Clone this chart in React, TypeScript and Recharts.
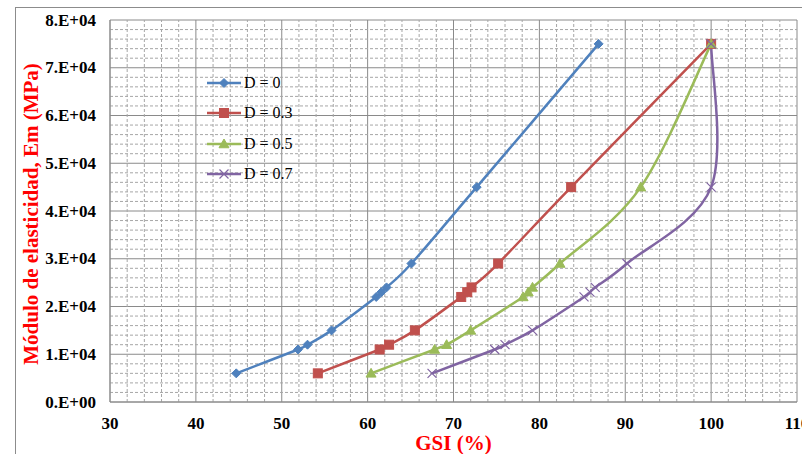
import React from 'react';
import { LineChart, Line, XAxis, YAxis, CartesianGrid, ReferenceLine, Legend } from 'recharts';

// Módulo de elasticidad (MPa) – shared y values for every curve
const emValues = [6000, 11000, 12000, 15000, 22000, 23000, 24000, 29000, 45000, 75000];
// GSI (%) for each disturbance factor D
const gsiD0 = [44.7, 51.9, 53.0, 55.8, 61.0, 61.6, 62.2, 65.1, 72.7, 86.9];
const gsiD03 = [54.2, 61.4, 62.5, 65.5, 70.9, 71.6, 72.1, 75.2, 83.7, 100];
const gsiD05 = [60.4, 67.8, 69.2, 72.0, 78.1, 78.7, 79.2, 82.4, 91.8, 100];
const gsiD07 = [67.5, 74.8, 76.0, 79.2, 85.2, 85.9, 86.5, 90.2, 100, 100];

const seriesNames = ['D = 0', 'D = 0.3', 'D = 0.5', 'D = 0.7'];
const seriesColors = ['#4F81BD', '#C0504D', '#9BBB59', '#8064A2'];
const seriesMarkers = ['diamond', 'square', 'triangle', 'x'];

const xTicks = [30, 40, 50, 60, 70, 80, 90, 100, 110];
const yTicks = [0, 10000, 20000, 30000, 40000, 50000, 60000, 70000, 80000];
const yTickLabels = ['0.E+00', '1.E+04', '2.E+04', '3.E+04', '4.E+04', '5.E+04', '6.E+04', '7.E+04', '8.E+04'];
const xMinor = [32, 34, 36, 38, 42, 44, 46, 48, 52, 54, 56, 58, 62, 64, 66, 68, 72, 74, 76, 78, 82, 84, 86, 88, 92, 94, 96, 98, 102, 104, 106, 108];
const yMinor = [2000, 4000, 6000, 8000, 12000, 14000, 16000, 18000, 22000, 24000, 26000, 28000, 32000, 34000, 36000, 38000, 42000, 44000, 46000, 48000, 52000, 54000, 56000, 58000, 62000, 64000, 66000, 68000, 72000, 74000, 76000, 78000];

const xTitle = 'GSI (%)';
const yTitle = 'Módulo de elasticidad, Em (MPa)';

const toPoints = (xs: number[]) => xs.map((x, i) => ({ x, y: emValues[i] }));
const seriesData = [toPoints(gsiD0), toPoints(gsiD03), toPoints(gsiD05), toPoints(gsiD07)];

const FONT = '"Liberation Serif", "Times New Roman", serif';
const MAJOR = '#8a8a8a';
const MINOR = '#a6a6a6';

// Excel-like smoothed line (Catmull-Rom through the points)
const excelSmooth = (context: any) => {
  let pts: number[][] = [];
  return {
    areaStart() {},
    areaEnd() {},
    lineStart() {
      pts = [];
    },
    lineEnd() {
      const n = pts.length;
      if (!n) return;
      context.moveTo(pts[0][0], pts[0][1]);
      for (let i = 0; i < n - 1; i++) {
        const p0 = pts[Math.max(i - 1, 0)];
        const p1 = pts[i];
        const p2 = pts[i + 1];
        const p3 = pts[Math.min(i + 2, n - 1)];
        context.bezierCurveTo(
          p1[0] + (p2[0] - p0[0]) / 6,
          p1[1] + (p2[1] - p0[1]) / 6,
          p2[0] - (p3[0] - p1[0]) / 6,
          p2[1] - (p3[1] - p1[1]) / 6,
          p2[0],
          p2[1]
        );
      }
    },
    point(x: number, y: number) {
      pts.push([+x, +y]);
    },
  };
};

const Marker = ({ kind, cx, cy, color }: { kind: string; cx: number; cy: number; color: string }) => {
  if (cx == null || cy == null) return null;
  if (kind === 'diamond') {
    const r = 4.5;
    return <path d={`M${cx},${cy - r}L${cx + r},${cy}L${cx},${cy + r}L${cx - r},${cy}Z`} fill={color} stroke={color} strokeWidth={1} />;
  }
  if (kind === 'square') {
    const r = 4.5;
    return <rect x={cx - r} y={cy - r} width={2 * r} height={2 * r} fill={color} stroke={color} strokeWidth={1} />;
  }
  if (kind === 'triangle') {
    const r = 5;
    return <path d={`M${cx},${cy - r}L${cx + r},${cy + r * 0.75}L${cx - r},${cy + r * 0.75}Z`} fill={color} stroke={color} strokeWidth={1} />;
  }
  const r = 4.5;
  return (
    <path d={`M${cx - r},${cy - r}L${cx + r},${cy + r}M${cx - r},${cy + r}L${cx + r},${cy - r}`} stroke={color} strokeWidth={1.2} fill="none" />
  );
};

const YTick = (props: any) => {
  const { x, y, payload } = props;
  const idx = yTicks.indexOf(payload.value);
  return (
    <text x={x - 14} y={y} dy={5.5} textAnchor="end" fontFamily={FONT} fontWeight="bold" fontSize={17} fill="#000">
      {yTickLabels[idx]}
    </text>
  );
};

const XTick = (props: any) => {
  const { x, y, payload } = props;
  return (
    <text x={x} y={y} dy={26.5} textAnchor="middle" fontFamily={FONT} fontWeight="bold" fontSize={17} fill="#000">
      {payload.value}
    </text>
  );
};

const renderLegend = (props: any) => {
  const payload = props.payload || [];
  return (
    <div>
      {payload.map((entry: any) => {
        const i = seriesNames.indexOf(entry.value);
        return (
          <div key={entry.value} style={{ display: 'flex', alignItems: 'center', height: 30.3 }}>
            <svg width={36} height={14} style={{ display: 'block' }}>
              <line x1={1} x2={35} y1={7} y2={7} stroke={seriesColors[i]} strokeWidth={2.5} />
              <Marker kind={seriesMarkers[i]} cx={18} cy={7} color={seriesColors[i]} />
            </svg>
            <span style={{ fontFamily: FONT, fontSize: 16, color: '#000', marginLeft: 2, lineHeight: '16px' }}>{entry.value}</span>
          </div>
        );
      })}
    </div>
  );
};

export default function App() {
  return (
    <div style={{ position: 'absolute', left: 0, top: 0, width: 802, height: 454, overflow: 'hidden', background: '#fff' }}>
      <div style={{ position: 'absolute', left: 15, top: 7, width: 820, height: 480, borderTop: '1px solid #8c8c8c', borderLeft: '1px solid #8c8c8c' }} />
      <LineChart width={802} height={454} margin={{ top: 20, right: 5, bottom: 0, left: 0 }} style={{ position: 'absolute', left: 0, top: 0 }}>
        {xMinor.map((v) => (
          <ReferenceLine key={`xm${v}`} x={v} stroke={MINOR} strokeDasharray="3 2" strokeWidth={1} />
        ))}
        {yMinor.map((v) => (
          <ReferenceLine key={`ym${v}`} y={v} stroke={MINOR} strokeDasharray="3 2" strokeWidth={1} />
        ))}
        <CartesianGrid stroke={MAJOR} strokeWidth={1} />
        <XAxis
          dataKey="x"
          type="number"
          domain={[30, 110]}
          ticks={xTicks}
          allowDataOverflow
          height={52}
          tickSize={0}
          tickMargin={0}
          tickLine={false}
          axisLine={{ stroke: MAJOR }}
          tick={<XTick />}
          interval={0}
          label={{
            content: () => (
              <text x={453.5} y={450} textAnchor="middle" fontFamily={FONT} fontWeight="bold" fontSize={21} fill="#ff0000">
                {xTitle}
              </text>
            ),
          }}
        />
        <YAxis
          dataKey="y"
          type="number"
          domain={[0, 80000]}
          ticks={yTicks}
          allowDataOverflow
          width={110}
          tickSize={0}
          tickMargin={0}
          tickLine={false}
          axisLine={{ stroke: MAJOR }}
          tick={<YTick />}
          interval={0}
          label={{
            content: () => (
              <text x={38} y={214} transform="rotate(-90, 38, 214)" textAnchor="middle" fontFamily={FONT} fontWeight="bold" fontSize={21} fill="#ff0000">
                {yTitle}
              </text>
            ),
          }}
        />
        <Legend
          layout="vertical"
          align="center"
          verticalAlign="middle"
          content={renderLegend}
          wrapperStyle={{ left: 206, top: 68, width: 110 }}
        />
        {seriesData.map((data, i) => (
          <Line
            key={seriesNames[i]}
            data={data}
            dataKey="y"
            name={seriesNames[i]}
            type={excelSmooth as any}
            stroke={seriesColors[i]}
            strokeWidth={2.5}
            dot={(p: any) => <Marker key={`${i}-${p.index}`} kind={seriesMarkers[i]} cx={p.cx} cy={p.cy} color={seriesColors[i]} />}
            activeDot={false}
            isAnimationActive={false}
            legendType="line"
          />
        ))}
      </LineChart>
    </div>
  );
}
